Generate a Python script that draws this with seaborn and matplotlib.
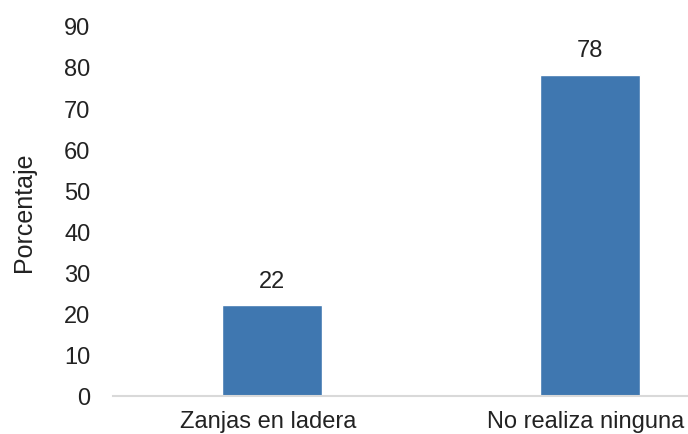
import matplotlib
matplotlib.use("Agg")
import matplotlib.pyplot as plt
import matplotlib.transforms as mtransforms
import seaborn as sns
import pandas as pd

categories = ["Zanjas en ladera", "No realiza ninguna"]
values = [22, 78]
yticks = [0, 10, 20, 30, 40, 50, 60, 70, 80, 90]

sns.set_theme(style="white")
plt.rcParams['font.family'] = ['Liberation Sans', 'DejaVu Sans']

df = pd.DataFrame({"cat": categories, "val": values})

fig = plt.figure(figsize=(6.88, 4.35), dpi=100)
ax = fig.add_axes([0.164, 0.0874, 0.836, 0.851])
sns.barplot(data=df, x="cat", y="val", color="#3f77b0", width=0.314, ax=ax, saturation=1)

fs = 17
ax.set_xlim(-0.5, 1.308)
ax.set_ylim(0, 90)
ax.set_yticks(yticks)
ax.set_xlabel("")
ax.set_ylabel("Porcentaje", fontsize=18, color="#222222", labelpad=20)
ax.tick_params(axis="both", length=0, labelsize=fs, labelcolor="#222222")
ax.tick_params(axis="x", pad=10, labelsize=17)
ax.tick_params(axis="y", pad=16)
for s in ["top", "right", "left"]:
    ax.spines[s].set_visible(False)
ax.spines["bottom"].set_color("#d9d9d9")
ax.spines["bottom"].set_linewidth(1.5)

shift = mtransforms.ScaledTranslation(-4 / 100, 0, fig.dpi_scale_trans)
for lbl in ax.get_xticklabels():
    lbl.set_transform(lbl.get_transform() + shift)

for c in ax.containers:
    ax.bar_label(c, labels=[str(v) for v in values], padding=10, fontsize=fs, color="#222222")

fig.savefig("out.png", dpi=100)
